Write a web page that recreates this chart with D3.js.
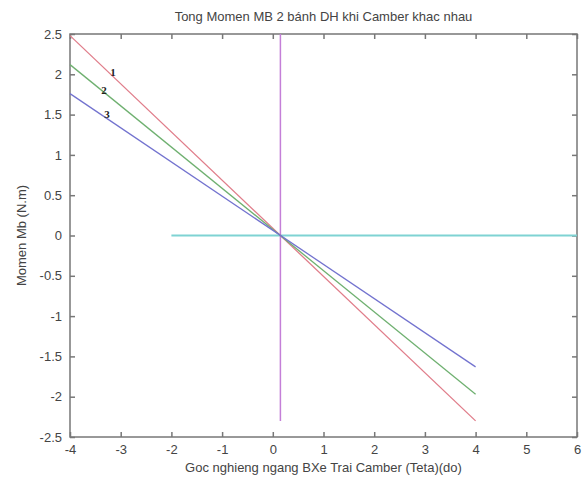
<!DOCTYPE html>
<html>
<head>
<meta charset="utf-8">
<script src="https://cdn.jsdelivr.net/npm/d3@7"></script>
<style>
  body { margin: 0; background: #fff; }
  text { font-family: Arial, "Liberation Sans", sans-serif; }
</style>
</head>
<body>
<div id="chart"></div>
<script>
// values
const xTicks = [-4, -3, -2, -1, 0, 1, 2, 3, 4, 5, 6];
const yTicks = [-2.5, -2, -1.5, -1, -0.5, 0, 0.5, 1, 1.5, 2, 2.5];

const camberX = [-4, 4];
const series1 = [2.48, -2.30];
const series2 = [2.12, -1.97];
const series3 = [1.76, -1.63];

const vertLineX = [0.15, 0.15];
const vertLineY = [2.5, -2.3];
const horzLineX = [-2, 6];
const horzLineY = [0, 0];

const lineLabels = ['1', '2', '3'];
const labelX = [-3.15, -3.33, -3.27];
const labelY = [2.03, 1.80, 1.51];

const width = 585;
const height = 480;
const margin = { top: 34, right: 8, bottom: 43, left: 70 };

const svg = d3.select('#chart').append('svg')
  .attr('width', width)
  .attr('height', height);

const x = d3.scaleLinear()
  .domain([-4, 6])
  .range([margin.left, width - margin.right]);

const y = d3.scaleLinear()
  .domain([-2.5, 2.5])
  .range([height - margin.bottom, margin.top]);

const axisColor = '#777';
const textColor = '#444';
const tickLen = 5;

// box
svg.append('rect')
  .attr('x', x(-4))
  .attr('y', y(2.5))
  .attr('width', x(6) - x(-4))
  .attr('height', y(-2.5) - y(2.5))
  .attr('fill', 'none')
  .attr('stroke', axisColor)
  .attr('stroke-width', 1.5);

// inward ticks on all sides
const fmt = d => String(d).replace('-', '-');
const xAxisB = d3.axisBottom(x).tickValues(xTicks).tickSizeInner(-tickLen).tickSizeOuter(0).tickPadding(8).tickFormat(fmt);
const xAxisT = d3.axisTop(x).tickValues(xTicks).tickSizeInner(-tickLen).tickSizeOuter(0).tickFormat('');
const yAxisL = d3.axisLeft(y).tickValues(yTicks).tickSizeInner(-tickLen).tickSizeOuter(0).tickPadding(8).tickFormat(fmt);
const yAxisR = d3.axisRight(y).tickValues(yTicks).tickSizeInner(-tickLen).tickSizeOuter(0).tickFormat('');

function styleAxis(g) {
  g.select('.domain').remove();
  g.selectAll('line').attr('stroke', axisColor).attr('stroke-width', 1.5);
  g.selectAll('text').attr('fill', textColor).style('font-size', '13px');
}

svg.append('g').attr('transform', `translate(0,${y(-2.5)})`).call(xAxisB).call(styleAxis);
svg.append('g').attr('transform', `translate(0,${y(2.5)})`).call(xAxisT).call(styleAxis);
svg.append('g').attr('transform', `translate(${x(-4)},0)`).call(yAxisL).call(styleAxis);
svg.append('g').attr('transform', `translate(${x(6)},0)`).call(yAxisR).call(styleAxis);

const line = d3.line()
  .x(d => x(d[0]))
  .y(d => y(d[1]));

const plotLines = [
  { xs: horzLineX, ys: horzLineY, color: '#7fd3d3', w: 2 },
  { xs: vertLineX, ys: vertLineY, color: '#c47fd8', w: 1.5 },
  { xs: camberX, ys: series1, color: '#e07d8a', w: 1.3 },
  { xs: camberX, ys: series2, color: '#6fb070', w: 1.3 },
  { xs: camberX, ys: series3, color: '#7373cf', w: 1.3 },
];

svg.append('g')
  .selectAll('path')
  .data(plotLines)
  .enter().append('path')
  .attr('d', d => line(d.xs.map((v, i) => [v, d.ys[i]])))
  .attr('fill', 'none')
  .attr('stroke', d => d.color)
  .attr('stroke-width', d => d.w);

svg.append('g')
  .selectAll('text')
  .data(lineLabels)
  .enter().append('text')
  .attr('x', (d, i) => x(labelX[i]))
  .attr('y', (d, i) => y(labelY[i]))
  .attr('dy', '0.35em')
  .attr('text-anchor', 'middle')
  .style('font-family', '"Liberation Serif", "DejaVu Serif", serif')
  .style('font-weight', 'bold')
  .style('font-size', '11px')
  .attr('fill', '#222')
  .text(d => d);

// title and axis labels
svg.append('text')
  .attr('x', (x(-4) + x(6)) / 2)
  .attr('y', 21)
  .attr('text-anchor', 'middle')
  .attr('fill', textColor)
  .style('font-size', '13px')
  .text('Tong Momen MB 2 bánh DH khi Camber khac nhau');

svg.append('text')
  .attr('x', (x(-4) + x(6)) / 2)
  .attr('y', 472)
  .attr('text-anchor', 'middle')
  .attr('fill', textColor)
  .style('font-size', '13px')
  .text('Goc nghieng ngang BXe Trai Camber (Teta)(do)');

svg.append('text')
  .attr('transform', `translate(26,${(y(2.5) + y(-2.5)) / 2}) rotate(-90)`)
  .attr('text-anchor', 'middle')
  .attr('fill', textColor)
  .style('font-size', '13px')
  .text('Momen Mb (N.m)');
</script>
</body>
</html>
